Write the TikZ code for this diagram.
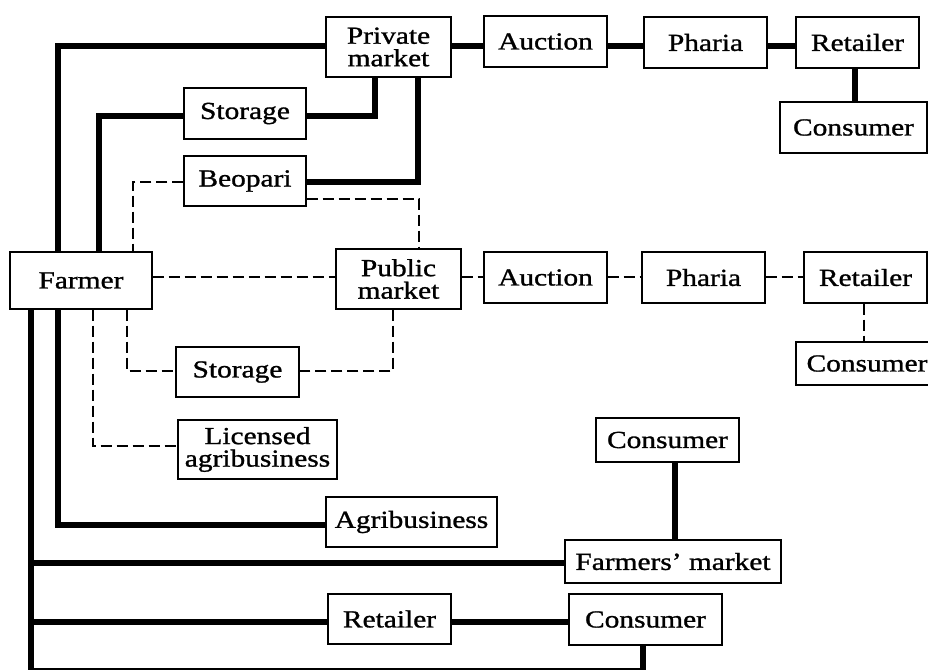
\documentclass[tikz,border=0pt]{standalone}
\usepackage{fontspec}
\setmainfont{Liberation Serif}[FakeStretch=1.2, FakeBold=1.1]
\begin{document}
\begin{tikzpicture}[x=1pt,y=-1pt,
  box/.style={draw, line width=1.3pt, inner sep=0pt, align=center,
    font=\fontsize{24.5}{22.5}\selectfont},
  solidline/.style={line width=6pt},
  dashline/.style={line width=1.3pt, dash pattern=on 11pt off 5pt}]
\fill[white] (0,0) rectangle (928,669);
\useasboundingbox (0,0) rectangle (928,669);
% nodes
\node[box, minimum width=142, minimum height=57] (Farmer) at (81,280.5) {Farmer};
\node[box, minimum width=125, minimum height=60] (PM) at (388.5,47) {Private\\market};
\node[box, minimum width=123, minimum height=51] (A1) at (545.5,41.5) {Auction};
\node[box, minimum width=123, minimum height=51] (P1) at (705.5,42.5) {Pharia};
\node[box, minimum width=123, minimum height=51] (R1) at (857.5,42.5) {Retailer};
\node[box, minimum width=147, minimum height=51] (C1) at (853.5,127.5) {Consumer};
\node[box, minimum width=122, minimum height=51] (S1) at (245,113.5) {Storage};
\node[box, minimum width=122, minimum height=50] (Beo) at (245,181) {Beopari};
\node[box, minimum width=125, minimum height=60] (PubM) at (398.5,279) {Public\\market};
\node[box, minimum width=123, minimum height=51] (A2) at (545.5,277.5) {Auction};
\node[box, minimum width=123, minimum height=51] (P2) at (703.5,277.5) {Pharia};
\node[box, minimum width=123, minimum height=51] (R2b) at (865.5,277.5) {Retailer};
\node[box, minimum width=142, minimum height=43] (C4) at (867,363.5) {Consumer};
\node[box, minimum width=123, minimum height=50] (S2) at (237.5,372) {Storage};
\node[box, minimum width=159, minimum height=59] (Lic) at (257.5,449.5) {Licensed\\agribusiness};
\node[box, minimum width=171, minimum height=50] (Agri) at (411.5,522) {Agribusiness};
\node[box, minimum width=143, minimum height=44] (C2) at (667.5,440) {Consumer};
\node[box, minimum width=216, minimum height=43] (FM) at (673,561.5) {Farmers' market};
\node[box, minimum width=123, minimum height=50] (R2) at (389.5,619) {Retailer};
\node[box, minimum width=153, minimum height=51] (C3) at (645.5,619.5) {Consumer};
% solid connectors
\coordinate (k1) at (58,46);
\draw[solidline] (Farmer.north -| k1) -- (k1) -- (PM.west |- k1);
\draw[solidline] (PM.east |- k1) -- (A1.west |- k1);
\draw[solidline] (A1.east |- k1) -- (P1.west |- k1);
\draw[solidline] (P1.east |- k1) -- (R1.west |- k1);
\coordinate (k2) at (855,0);
\draw[solidline] (R1.south -| k2) -- (C1.north -| k2);
\coordinate (k3) at (99,116);
\draw[solidline] (Farmer.north -| k3) -- (k3) -- (S1.west |- k3);
\coordinate (k4) at (375,116);
\draw[solidline] (S1.east |- k4) -- (k4) -- (PM.south -| k4);
\coordinate (k5) at (418,182);
\draw[solidline] (Beo.east |- k5) -- (k5) -- (PM.south -| k5);
\coordinate (k6) at (58,525);
\draw[solidline] (Farmer.south -| k6) -- (k6) -- (Agri.west |- k6);
\coordinate (k7) at (31,670.5);
\coordinate (k8) at (643,670.5);
\draw[solidline] (Farmer.south -| k7) -- (k7) -- (k8) -- (C3.south -| k8);
\coordinate (k9) at (31,563);
\draw[solidline] (k9) -- (FM.west |- k9);
\coordinate (k10) at (31,622);
\draw[solidline] (k10) -- (R2.west |- k10);
\draw[solidline] (R2.east |- k10) -- (C3.west |- k10);
\coordinate (k11) at (675,0);
\draw[solidline] (C2.south -| k11) -- (FM.north -| k11);
% dashed connectors
\coordinate (d1) at (133,182);
\draw[dashline] (Beo.west |- d1) -- (d1) -- (Farmer.north -| d1);
\coordinate (d2) at (419,199);
\draw[dashline] (Beo.east |- d2) -- (d2) -- (PubM.north -| d2);
\coordinate (d3) at (0,277);
\draw[dashline] (Farmer.east |- d3) -- (PubM.west |- d3);
\draw[dashline] (PubM.east |- d3) -- (A2.west |- d3);
\draw[dashline] (A2.east |- d3) -- (P2.west |- d3);
\draw[dashline] (P2.east |- d3) -- (R2b.west |- d3);
\coordinate (d4) at (864,0);
\draw[dashline] (R2b.south -| d4) -- (C4.north -| d4);
\coordinate (d5) at (393,371);
\draw[dashline] (PubM.south -| d5) -- (d5) -- (S2.east |- d5);
\coordinate (d6) at (127,371);
\draw[dashline] (Farmer.south -| d6) -- (d6) -- (S2.west |- d6);
\coordinate (d7) at (93,446);
\draw[dashline] (Farmer.south -| d7) -- (d7) -- (Lic.west |- d7);
\end{tikzpicture}
\end{document}
